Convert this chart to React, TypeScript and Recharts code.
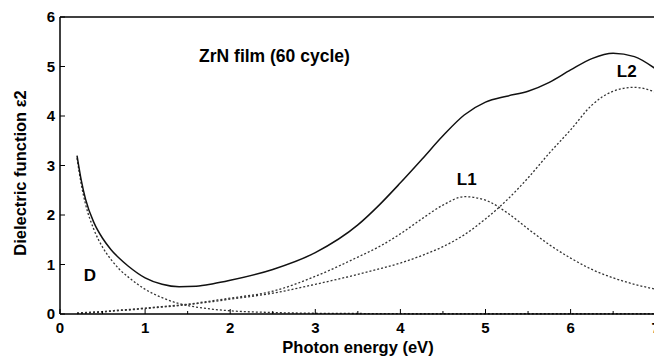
import { LineChart, Line, XAxis, YAxis, ReferenceLine, ReferenceDot } from "recharts";

// photon energy (eV)
const energy = [0.2, 0.25, 0.3, 0.4, 0.5, 0.6, 0.7, 0.8, 1.0, 1.2, 1.4, 1.6, 1.8, 2.0, 2.5, 3.0, 3.5, 3.75, 4.0, 4.25, 4.5, 4.75, 5.0, 5.25, 5.5, 5.75, 6.0, 6.25, 6.5, 6.75, 7.0];
// total eps2 (solid)
const total = [3.2, 2.7, 2.32, 1.84, 1.53, 1.3, 1.12, 0.97, 0.73, 0.6, 0.55, 0.56, 0.61, 0.68, 0.9, 1.24, 1.8, 2.2, 2.65, 3.12, 3.6, 4.02, 4.28, 4.4, 4.5, 4.68, 4.93, 5.16, 5.27, 5.2, 4.95];
// Drude term D
const drude = [3.15, 2.62, 2.22, 1.7, 1.35, 1.1, 0.9, 0.75, 0.5, 0.33, 0.21, 0.14, 0.095, 0.065, 0.03, 0.015, 0.01, 0.008, 0.006, 0.005, 0.005, 0.005, 0.005, 0.005, 0.005, 0.005, 0.005, 0.005, 0.005, 0.005, 0.005];
// Lorentz oscillator L1
const lorentz1 = [0.02, 0.025, 0.03, 0.04, 0.05, 0.065, 0.08, 0.09, 0.12, 0.15, 0.18, 0.22, 0.27, 0.32, 0.46, 0.76, 1.15, 1.36, 1.62, 1.92, 2.2, 2.37, 2.3, 2.05, 1.72, 1.4, 1.13, 0.9, 0.73, 0.6, 0.5];
// Lorentz oscillator L2
const lorentz2 = [0.01, 0.015, 0.02, 0.03, 0.04, 0.055, 0.07, 0.08, 0.11, 0.14, 0.17, 0.21, 0.25, 0.3, 0.42, 0.6, 0.8, 0.91, 1.03, 1.18, 1.36, 1.6, 1.92, 2.3, 2.75, 3.25, 3.72, 4.22, 4.5, 4.58, 4.48];

const xTicks = [0, 0.5, 1, 1.5, 2, 2.5, 3, 3.5, 4, 4.5, 5, 5.5, 6, 6.5, 7];
const yTicks = [0, 1, 2, 3, 4, 5, 6];

const data = energy.map((e, i) => ({
  e,
  total: total[i],
  drude: drude[i],
  l1: lorentz1[i],
  l2: lorentz2[i],
}));

const FONT = "'Liberation Sans', Arial, sans-serif";

function XTick(props: any) {
  const { x, y, payload } = props;
  const major = Number.isInteger(payload.value);
  return (
    <g>
      <line x1={x} x2={x} y1={y} y2={y - (major ? 5 : 3)} stroke="#000" strokeWidth={1} />
      {major && (
        <text x={x} y={y + 19} textAnchor="middle" fontFamily={FONT} fontWeight="bold" fontSize={15} fill="#000">
          {payload.value}
        </text>
      )}
    </g>
  );
}

function YTick(props: any) {
  const { x, y, payload } = props;
  return (
    <g>
      <line x1={x} x2={x + 5} y1={y} y2={y} stroke="#000" strokeWidth={1} />
      <text x={x - 5} y={y + 5} textAnchor="end" fontFamily={FONT} fontWeight="bold" fontSize={15} fill="#000">
        {payload.value}
      </text>
    </g>
  );
}

function YTitle() {
  return (
    <text x={20} y={173} transform="rotate(-90 20 173)" textAnchor="middle" dominantBaseline="central"
      fontFamily={FONT} fontWeight="bold" fontSize={16.5} fill="#000">
      Dielectric function ε2
    </text>
  );
}

function XTitle() {
  return (
    <text x={358} y={353} textAnchor="middle"
      fontFamily={FONT} fontWeight="bold" fontSize={16.5} fill="#000">
      Photon energy (eV)
    </text>
  );
}

const labelStyle = { fontFamily: FONT, fontWeight: "bold", fill: "#000" };

function App(): JSX.Element {
  return (
    <div style={{ position: "fixed", left: 0, top: 0, width: 654, height: 360, overflow: "hidden", background: "#fff" }}>
      <LineChart width={680} height={360} data={data} margin={{ top: 17, right: 24.3, bottom: 0, left: 0 }}>
        <XAxis dataKey="e" type="number" domain={[0, 7]} ticks={xTicks} height={46}
          tickSize={0} tickMargin={0} tickLine={false} tick={<XTick />}
          axisLine={{ stroke: "#000", strokeWidth: 1.5 }} label={<XTitle />} />
        <YAxis type="number" domain={[0, 6]} ticks={yTicks} width={60}
          tickSize={0} tickMargin={0} tickLine={false} tick={<YTick />}
          axisLine={{ stroke: "#000", strokeWidth: 1.5 }} label={<YTitle />} />
        <ReferenceLine y={6} stroke="#000" strokeWidth={1.5} />
        <Line type="monotone" dataKey="drude" stroke="#333" strokeWidth={1.3} strokeDasharray="2 2" dot={false} isAnimationActive={false} />
        <Line type="monotone" dataKey="l1" stroke="#333" strokeWidth={1.3} strokeDasharray="2 2" dot={false} isAnimationActive={false} />
        <Line type="monotone" dataKey="l2" stroke="#333" strokeWidth={1.3} strokeDasharray="2 2" dot={false} isAnimationActive={false} />
        <Line type="monotone" dataKey="total" stroke="#111" strokeWidth={1.5} dot={false} isAnimationActive={false} />
        <ReferenceDot x={2.52} y={5.21} r={0} stroke="none"
          label={{ value: "ZrN film (60 cycle)", position: "center", fontSize: 17.5, ...labelStyle }} />
        <ReferenceDot x={4.78} y={2.73} r={0} stroke="none"
          label={{ value: "L1", position: "center", fontSize: 17, ...labelStyle }} />
        <ReferenceDot x={6.66} y={4.9} r={0} stroke="none"
          label={{ value: "L2", position: "center", fontSize: 17, ...labelStyle }} />
        <ReferenceDot x={0.35} y={0.79} r={0} stroke="none"
          label={{ value: "D", position: "center", fontSize: 17, ...labelStyle }} />
      </LineChart>
    </div>
  );
}

export default App;
